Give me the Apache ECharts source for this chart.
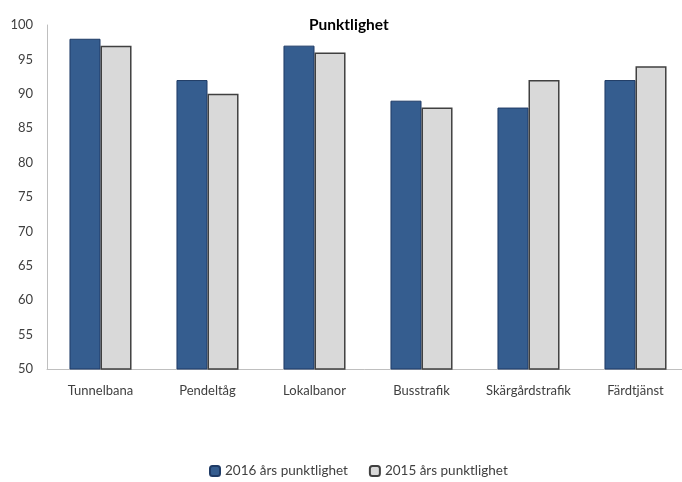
<!DOCTYPE html>
<html>
<head>
<meta charset="utf-8">
<script src="https://cdn.jsdelivr.net/npm/echarts@6/dist/echarts.min.js"></script>
<style>
  html, body { margin: 0; padding: 0; background: #fff; }
  #chart { width: 682px; height: 482px; }
</style>
</head>
<body>
<div id="chart"></div>
<script>
const categories = ['Tunnelbana', 'Pendeltåg', 'Lokalbanor', 'Busstrafik', 'Skärgårdstrafik', 'Färdtjänst'];
const values2016 = [98, 92, 97, 89, 88, 92];
const values2015 = [97, 90, 96, 88, 92, 94];
const seriesNames = ['2016 års punktlighet', '2015 års punktlighet'];

const font = 'Lato, "Open Sans", sans-serif';
const chart = echarts.init(document.getElementById('chart'));

chart.setOption({
    backgroundColor: '#fff',
    animation: false,
    title: {
        text: 'Punktlighet',
        left: 304,
        top: 12,
        textStyle: { fontFamily: font, fontSize: 15.5, fontWeight: 'bold', color: '#000' }
    },
    legend: {
        top: 461,
        left: 204,
        padding: [3, 5],
        itemWidth: 10,
        itemHeight: 10,
        itemGap: 21,
        textStyle: { fontFamily: font, fontSize: 13.5, color: '#404040' },
        data: seriesNames
    },
    grid: { left: 47, top: 25, width: 642, bottom: 113, containLabel: false, outerBoundsMode: 'none' },
    xAxis: {
        type: 'category',
        data: categories,
        axisLine: { lineStyle: { color: '#bfbfbf' } },
        axisTick: { show: false },
        axisLabel: { interval: 0, fontFamily: font, fontSize: 13, color: '#404040', margin: 15 }
    },
    yAxis: {
        type: 'value',
        min: 50,
        max: 100,
        interval: 5,
        axisLine: { show: true, lineStyle: { color: '#bfbfbf' } },
        axisTick: { show: false },
        splitLine: { show: false },
        axisLabel: { fontFamily: font, fontSize: 13, color: '#404040', margin: 14 }
    },
    series: [
        {
            name: seriesNames[0],
            type: 'bar',
            data: values2016,
            barGap: '0%',
            barCategoryGap: '42%',
            itemStyle: { color: '#355d8f', borderColor: '#1f3b66', borderWidth: 1 }
        },
        {
            name: seriesNames[1],
            type: 'bar',
            data: values2015,
            itemStyle: { color: '#d9d9d9', borderColor: '#404040', borderWidth: 1.5 }
        }
    ]
});
</script>
</body>
</html>
